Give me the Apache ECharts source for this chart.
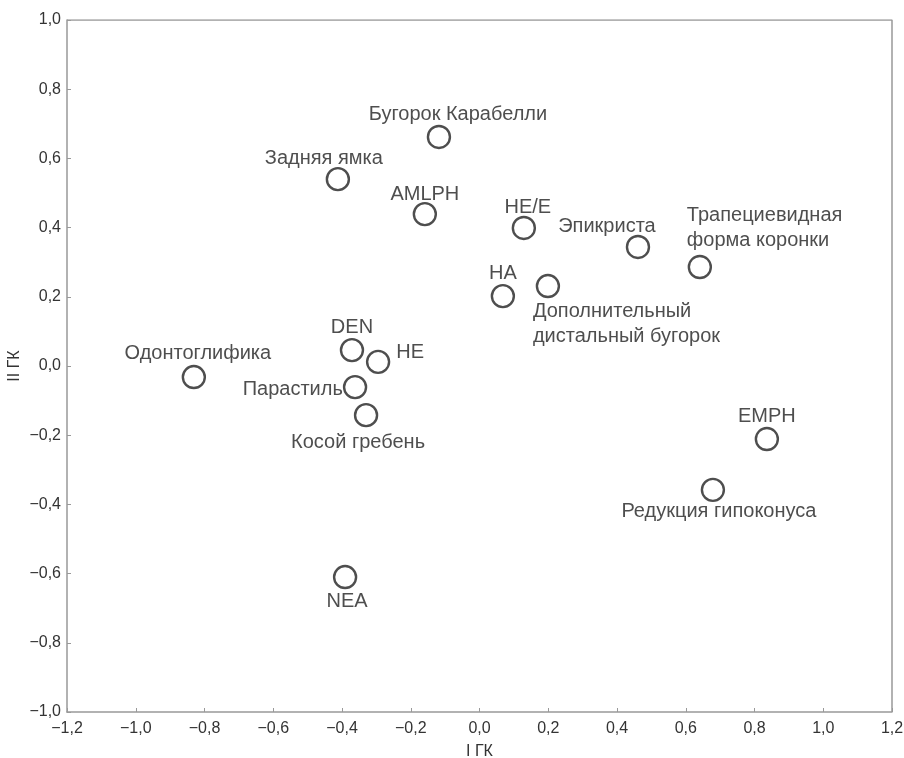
<!DOCTYPE html>
<html>
<head>
<meta charset="utf-8">
<script src="https://cdn.jsdelivr.net/npm/echarts@6/dist/echarts.min.js"></script>
<style>html,body{margin:0;padding:0;background:#fff}#c{width:904px;height:758px}</style>
</head>
<body>
<div id="c"></div>
<script>
// Data
var names = ['Бугорок Карабелли','Задняя ямка','AMLPH','HE/E','Эпикриста','Трапециевидная\nформа коронки','HA','Дополнительный\nдистальный бугорок','DEN','HE','Одонтоглифика','Парастиль','Косой гребень','EMPH','Редукция гипоконуса','NEA'];
var xValues = [-0.118,-0.412,-0.159,0.129,0.461,0.641,0.068,0.199,-0.371,-0.295,-0.831,-0.362,-0.330,0.836,0.679,-0.391];
var yValues = [0.662,0.540,0.439,0.399,0.344,0.286,0.202,0.231,0.046,0.012,-0.032,-0.061,-0.142,-0.211,-0.358,-0.610];
var xTicks = [-1.2,-1.0,-0.8,-0.6,-0.4,-0.2,0,0.2,0.4,0.6,0.8,1.0,1.2];
var yTicks = [-1.0,-0.8,-0.6,-0.4,-0.2,0,0.2,0.4,0.6,0.8,1.0];

// Label placement (style, separate from data)
var placement = {
  'Бугорок Карабелли': {position:'top', offset:[19,2]},
  'Задняя ямка': {position:'top', offset:[-14,4]},
  'AMLPH': {position:'top', offset:[0,5]},
  'HE/E': {position:'top', offset:[4,4]},
  'Эпикриста': {position:'top', offset:[-31,4]},
  'Трапециевидная\nформа коронки': {position:'top', offset:[-13,-2], align:'left'},
  'HA': {position:'top', offset:[0,2]},
  'Дополнительный\nдистальный бугорок': {position:'bottom', offset:[-15,1], align:'left'},
  'DEN': {position:'top', offset:[0,2]},
  'HE': {position:'right', offset:[6,-9], align:'left'},
  'Одонтоглифика': {position:'top', offset:[4,1]},
  'Парастиль': {position:'left', offset:[0,2], align:'right'},
  'Косой гребень': {position:'bottom', offset:[-8,3]},
  'EMPH': {position:'top', offset:[0,2]},
  'Редукция гипоконуса': {position:'bottom', offset:[6,-3]},
  'NEA': {position:'bottom', offset:[2,0]}
};

function fmt(v){
  var s = Math.abs(v).toFixed(1).replace('.', ',');
  return (v < -1e-9 ? '\u2212' : '') + s;
}

var data = names.map(function(n,i){
  var p = placement[n] || {};
  var lab = {position: p.position, offset: p.offset};
  if (p.align) lab.align = p.align;
  return { name: n, value: [xValues[i], yValues[i]], label: lab };
});

var axisCol = '#999999';
var chart = echarts.init(document.getElementById('c'));
chart.setOption({
  animation: false,
  backgroundColor: '#fff',
  grid: {left: 67, right: 12, top: 20, bottom: 46, containLabel: false, outerBoundsMode: 'none'},
  xAxis: {
    type: 'value', min: xTicks[0], max: xTicks[xTicks.length-1], interval: 0.2,
    name: 'I ГК', nameLocation: 'middle', nameGap: 32,
    nameTextStyle: {fontFamily: 'Liberation Sans', fontSize: 16, color: '#333'},
    axisLine: {show: true, onZero: false, lineStyle: {color: axisCol, width: 1.5}},
    axisTick: {show: true, inside: true, length: 4, lineStyle: {color: axisCol}},
    axisLabel: {formatter: fmt, fontFamily: 'Liberation Sans', fontSize: 16, color: '#333', margin: 9},
    splitLine: {show: false}
  },
  yAxis: {
    type: 'value', min: yTicks[0], max: yTicks[yTicks.length-1], interval: 0.2,
    name: 'II ГК', nameLocation: 'middle', nameGap: 44, nameRotate: 90, nameMoveOverlap: false,
    nameTextStyle: {fontFamily: 'Liberation Sans', fontSize: 16, color: '#333'},
    axisLine: {show: true, onZero: false, lineStyle: {color: axisCol, width: 1.5}},
    axisTick: {show: true, inside: true, length: 4, lineStyle: {color: axisCol}},
    axisLabel: {formatter: fmt, fontFamily: 'Liberation Sans', fontSize: 16, color: '#333', margin: 6},
    splitLine: {show: false}
  },
  series: [
    {
      type: 'scatter',
      data: data,
      symbol: 'circle',
      symbolSize: 22,
      itemStyle: {color: '#fff', borderColor: '#222', borderWidth: 2.4},
      label: {
        show: true,
        formatter: function(p){ return p.name; },
        fontFamily: 'Liberation Sans', fontSize: 20, color: '#222',
        distance: 0, lineHeight: 25
      }
    },
    {
      type: 'line', data: [[xTicks[0], yTicks[yTicks.length-1]], [xTicks[xTicks.length-1], yTicks[yTicks.length-1]], [xTicks[xTicks.length-1], yTicks[0]]],
      symbol: 'none', lineStyle: {color: axisCol, width: 1.5}, silent: true, z: 1
    }
  ]
});
</script>
</body>
</html>
